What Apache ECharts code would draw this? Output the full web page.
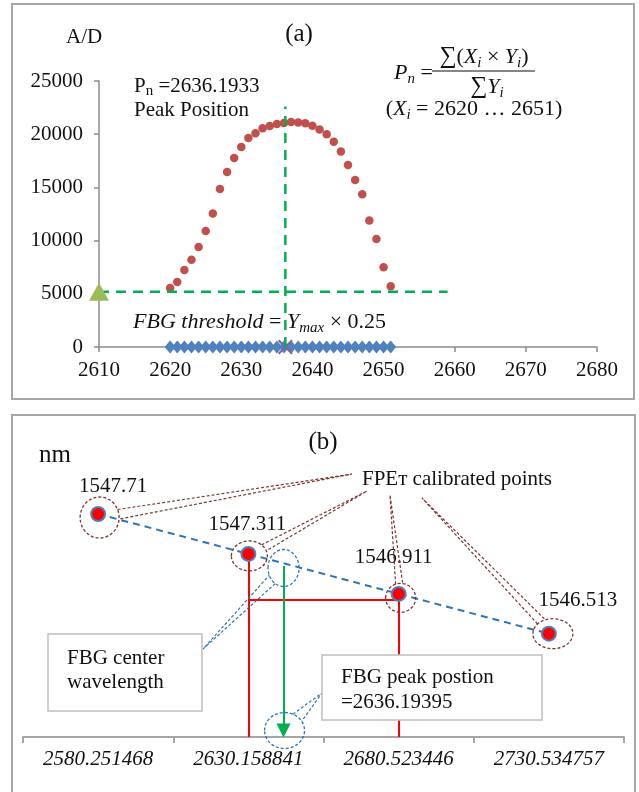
<!DOCTYPE html>
<html><head><meta charset="utf-8">
<script src="https://cdn.jsdelivr.net/npm/echarts@6/dist/echarts.min.js"></script>
<style>html,body{margin:0;padding:0;background:#fff}#c{width:639px;height:792px}</style>
</head><body><div id="c"></div>
<script>
// ---------- Panel (a) data ----------
const adX = [2620,2621,2622,2623,2624,2625,2626,2627,2628,2629,2630,2631,2632,2633,2634,2635,
             2636,2637,2638,2639,2640,2641,2642,2643,2644,2645,2646,2647,2648,2649,2650,2651];
const adY = [5550,6100,7230,8190,9400,10900,12550,14850,16450,17760,18800,19650,20100,20550,20780,20960,
             21050,21150,21110,21030,20800,20450,20000,19300,18380,17100,15700,14350,11900,10150,7500,5700];
const peakPosition = 2636.1933;
const thresholdLevel = 5200;
const thresholdRange = [2610, 2659];
const peakLineTop = 22600;
const xTicksA = [2610, 2680, 10];
const yTicksA = [0, 25000, 5000];

// ---------- Panel (b) data ----------
const pixelCategories = ['2580.251468','2630.158841','2680.523446','2730.534757'];
const calWavelengths = [1547.71, 1547.311, 1546.911, 1546.513];
const fbgPeakCatPos = 1.234;      // position of FBG peak on the category scale
const arrowTop = 1547.19;
const arrowBottom = 1545.545;
const redLevel = 1546.85;
const yRangeB = [1545.48, 1548.48];

const SERIF = '"Liberation Serif","DejaVu Serif","Times New Roman",serif';
const chart = echarts.init(document.getElementById('c'));

const pointLabelOffsets = [[15,-28],[-1,-29],[-5,-36],[29,-33]];
const plain = v => String(v);

const option = {
  animation: false,
  backgroundColor: '#fff',
  grid: [
    {left: 99, top: 81, width: 498, height: 266},
    {left: 23, top: 437, width: 601, height: 300}
  ],
  xAxis: [
    {type:'value', gridIndex:0, min:xTicksA[0], max:xTicksA[1], interval:xTicksA[2],
     axisLine:{show:true, lineStyle:{color:'#8c8c8c', width:1.5}},
     axisTick:{show:true, length:5, lineStyle:{color:'#8c8c8c', width:1.5}},
     splitLine:{show:false},
     axisLabel:{color:'#111', fontFamily:SERIF, fontSize:21, margin:13, formatter:plain}},
    {type:'category', gridIndex:1, data:pixelCategories, boundaryGap:true,
     axisLine:{show:true, lineStyle:{color:'#a6a6a6', width:2}},
     axisTick:{show:true, length:6, lineStyle:{color:'#a6a6a6', width:2}},
     axisLabel:{color:'#111', fontFamily:SERIF, fontStyle:'italic', fontSize:21, margin:12}},
    {type:'value', gridIndex:1, min:-0.5, max:3.5, show:false}
  ],
  yAxis: [
    {type:'value', gridIndex:0, min:yTicksA[0], max:yTicksA[1], interval:yTicksA[2],
     axisLine:{show:true, lineStyle:{color:'#8c8c8c', width:1.5}},
     axisTick:{show:true, length:5, lineStyle:{color:'#8c8c8c', width:1.5}},
     splitLine:{show:false},
     axisLabel:{color:'#111', fontFamily:SERIF, fontSize:21, margin:16, formatter:plain}},
    {type:'value', gridIndex:1, min:yRangeB[0], max:yRangeB[1], show:false}
  ],
  series: [
    {type:'scatter', xAxisIndex:0, yAxisIndex:0, symbolSize:8.5,
     itemStyle:{color:'#c0504d', opacity:1}, data: adX.map((x,i)=>[x, adY[i]])},
    {type:'line', xAxisIndex:0, yAxisIndex:0, symbol:'none',
     lineStyle:{color:'#00b050', width:2.5, type:[10,7]},
     data: [[thresholdRange[0], thresholdLevel],[thresholdRange[1], thresholdLevel]]},
    {type:'scatter', xAxisIndex:0, yAxisIndex:0, symbol:'diamond', symbolSize:[11,13],
     itemStyle:{color:'#4f81bd', opacity:1}, data: adX.map(x=>[x, 0])},
    {type:'scatter', xAxisIndex:0, yAxisIndex:0, z:4,
     symbol:'path://M0,1 L1,0 L5,4 L9,0 L10,1 L6,5 L10,9 L9,10 L5,6 L1,10 L0,9 L4,5 Z',
     symbolSize:15, itemStyle:{color:'#8064a2', opacity:1}, data:[[peakPosition, 0]]},
    {type:'line', xAxisIndex:0, yAxisIndex:0, symbol:'none', z:5,
     lineStyle:{color:'#00b050', width:2.5, type:[10,7]},
     data: [[peakPosition, 0],[peakPosition, peakLineTop]]},
    {type:'scatter', xAxisIndex:0, yAxisIndex:0, symbol:'triangle', symbolSize:[20,18], z:5,
     itemStyle:{color:'#9bbb59', opacity:1}, data:[[thresholdRange[0], thresholdLevel]]},
    // panel (b)
    {type:'line', xAxisIndex:1, yAxisIndex:1, z:6, symbol:'circle', symbolSize:14,
     itemStyle:{color:'#ff0000', borderColor:'#4f81bd', borderWidth:2},
     lineStyle:{color:'#2e75b6', width:2, type:[7,5]},
     label:{show:true, color:'#111', fontFamily:SERIF, fontSize:21, position:'inside'},
     data: calWavelengths.map((v,i)=>({value:v, label:{offset:pointLabelOffsets[i]}}))},
    {type:'lines', coordinateSystem:'cartesian2d', xAxisIndex:2, yAxisIndex:1, z:3,
     lineStyle:{color:'#ff0000', width:2, opacity:1, curveness:0},
     data:[
       {coords:[[1, calWavelengths[1]],[1, yRangeB[0]]]},
       {coords:[[1, redLevel],[2, redLevel]]},
       {coords:[[2, calWavelengths[2]],[2, yRangeB[0]]]}
     ]},
    {type:'lines', coordinateSystem:'cartesian2d', xAxisIndex:2, yAxisIndex:1, z:4,
     symbol:['none','triangle'], symbolSize:[18,14],
     lineStyle:{color:'#00b050', width:2, opacity:1, curveness:0},
     itemStyle:{color:'#00b050'},
     data:[{coords:[[fbgPeakCatPos, arrowTop],[fbgPeakCatPos, arrowBottom]]}]}
  ]
};
chart.setOption(option);

function px(xi, yv){ return [chart.convertToPixel({xAxisIndex:2}, xi), chart.convertToPixel({yAxisIndex:1}, yv)]; }
const BROWN = '#7b3535', BLUE = '#2e75b6';
function ell(cx, cy, rx, ry, color){
  return {type:'ellipse', z:50, shape:{cx, cy, rx, ry},
    style:{fill:'rgba(0,0,0,0)', stroke:color, lineWidth:1.3, lineDash:[3,2]}};
}
function wedge(cx, cy, rx, ry, tx, ty, color, spread){
  const th = Math.atan2((ty-cy)/ry, (tx-cx)/rx);
  const s = spread || 0.24;
  const b1 = [cx + rx*Math.cos(th - s), cy + ry*Math.sin(th - s)];
  const b2 = [cx + rx*Math.cos(th + s), cy + ry*Math.sin(th + s)];
  return {type:'polyline', z:50, shape:{points:[b1, [tx, ty], b2]},
    style:{fill:null, stroke:color, lineWidth:1.2, lineDash:[3,2]}};
}
const ellipseGeom = [[1.5,3.5,19.5,20.5],[1,2,18,15],[2,4,15,14.5],[4,0,20,15]];
const wedgeTips = [[352,474],[367,491],[390,495],[422,498]];

const g = [];
// panel frames
g.push({type:'rect', z:-1, shape:{x:12, y:4, width:622, height:395}, style:{fill:'#fff', stroke:'#a6a6a6', lineWidth:2}});
g.push({type:'rect', z:-1, shape:{x:12, y:415, width:623, height:390}, style:{fill:'#fff', stroke:'#a6a6a6', lineWidth:2}});

// panel (a) texts
const T = (x, y, text, extra) => Object.assign({type:'text', z:60, x, y,
  style:Object.assign({text, fill:'#111', font:'21px '+SERIF, verticalAlign:'middle'}, extra||{})});
g.push(T(66, 37, 'A/D', {font:'21px '+SERIF}));
g.push(T(299, 34, '(a)', {font:'25px '+SERIF, align:'center'}));
g.push({type:'text', z:60, x:134, y:86, style:{text:'{p|P}{s|n}{t| =2636.1933}', verticalAlign:'middle', fill:'#111',
  rich:{p:{fontFamily:SERIF, fontSize:21, fill:'#111'}, s:{fontFamily:SERIF, fontSize:15, padding:[10,0,0,0], fill:'#111'}, t:{fontFamily:SERIF, fontSize:21, fill:'#111'}}}});
g.push(T(134, 110, 'Peak Position'));
const mathRich = {
  i:{fontFamily:SERIF, fontStyle:'italic', fontSize:22, fill:'#111'},
  n:{fontFamily:SERIF, fontSize:22, fill:'#111'},
  s:{fontFamily:SERIF, fontStyle:'italic', fontSize:15, padding:[12,0,0,0], fill:'#111'},
  S:{fontFamily:SERIF, fontSize:24, fill:'#111'}
};
g.push({type:'text', z:60, x:394, y:73, style:{text:'{i|P}{s|n}{n| =}', verticalAlign:'middle', rich:mathRich}});
g.push({type:'text', z:60, x:484, y:57, style:{text:'{S|∑}{n|(}{i|X}{s|i}{n| × }{i|Y}{s|i}{n|)}', align:'center', verticalAlign:'middle', rich:mathRich}});
g.push({type:'line', z:60, shape:{x1:432, y1:71, x2:535, y2:71}, style:{stroke:'#111', lineWidth:1.2}});
g.push({type:'text', z:60, x:487, y:87, style:{text:'{S|∑}{i|Y}{s|i}', align:'center', verticalAlign:'middle', rich:mathRich}});
g.push({type:'text', z:60, x:474, y:109, style:{text:'{n|(}{i|X}{s|i}{n| = 2620 … 2651)}', align:'center', verticalAlign:'middle', rich:mathRich}});
g.push({type:'text', z:60, x:133, y:322, style:{text:'{i|FBG threshold}{n| = }{i|Y}{s|max}{n| × 0.25}', verticalAlign:'middle', rich:mathRich}});

// panel (b) texts
g.push(T(39, 455, 'nm', {font:'25px '+SERIF}));
g.push(T(323, 442, '(b)', {font:'25px '+SERIF, align:'center'}));
g.push(T(362, 479, 'FPEт calibrated points'));

// callout ellipses and tails around calibrated points
calWavelengths.forEach((v, i) => {
  const p = px(i, v);
  const e = ellipseGeom[i];
  const cx = p[0] + e[0], cy = p[1] + e[1];
  g.push(ell(cx, cy, e[2], e[3], BROWN));
  g.push(wedge(cx, cy, e[2], e[3], wedgeTips[i][0], wedgeTips[i][1], BROWN));
});
// blue callouts
const aTop = px(fbgPeakCatPos, arrowTop);
const aBot = px(fbgPeakCatPos, arrowBottom);
g.push(ell(aTop[0], aTop[1] + 2, 15.5, 18.5, BLUE));
g.push(wedge(aTop[0], aTop[1] + 2, 15.5, 18.5, 203, 649, BLUE, 0.3));
g.push(ell(aBot[0] + 1, aBot[1], 20, 18, BLUE));
g.push(wedge(aBot[0] + 1, aBot[1], 20, 18, 322, 693, BLUE, 0.3));

// text boxes
g.push({type:'rect', z:55, shape:{x:48, y:634, width:154, height:77}, style:{fill:'#fff', stroke:'#bfbfbf', lineWidth:1.5}});
g.push(T(67, 658, 'FBG center'));
g.push(T(67, 682, 'wavelength'));
g.push({type:'rect', z:55, shape:{x:322, y:655, width:220, height:65}, style:{fill:'#fff', stroke:'#bfbfbf', lineWidth:1.5}});
g.push(T(341, 677, 'FBG peak postion'));
g.push(T(341, 702, '=2636.19395'));

chart.setOption({graphic: g});
</script>
</body></html>
